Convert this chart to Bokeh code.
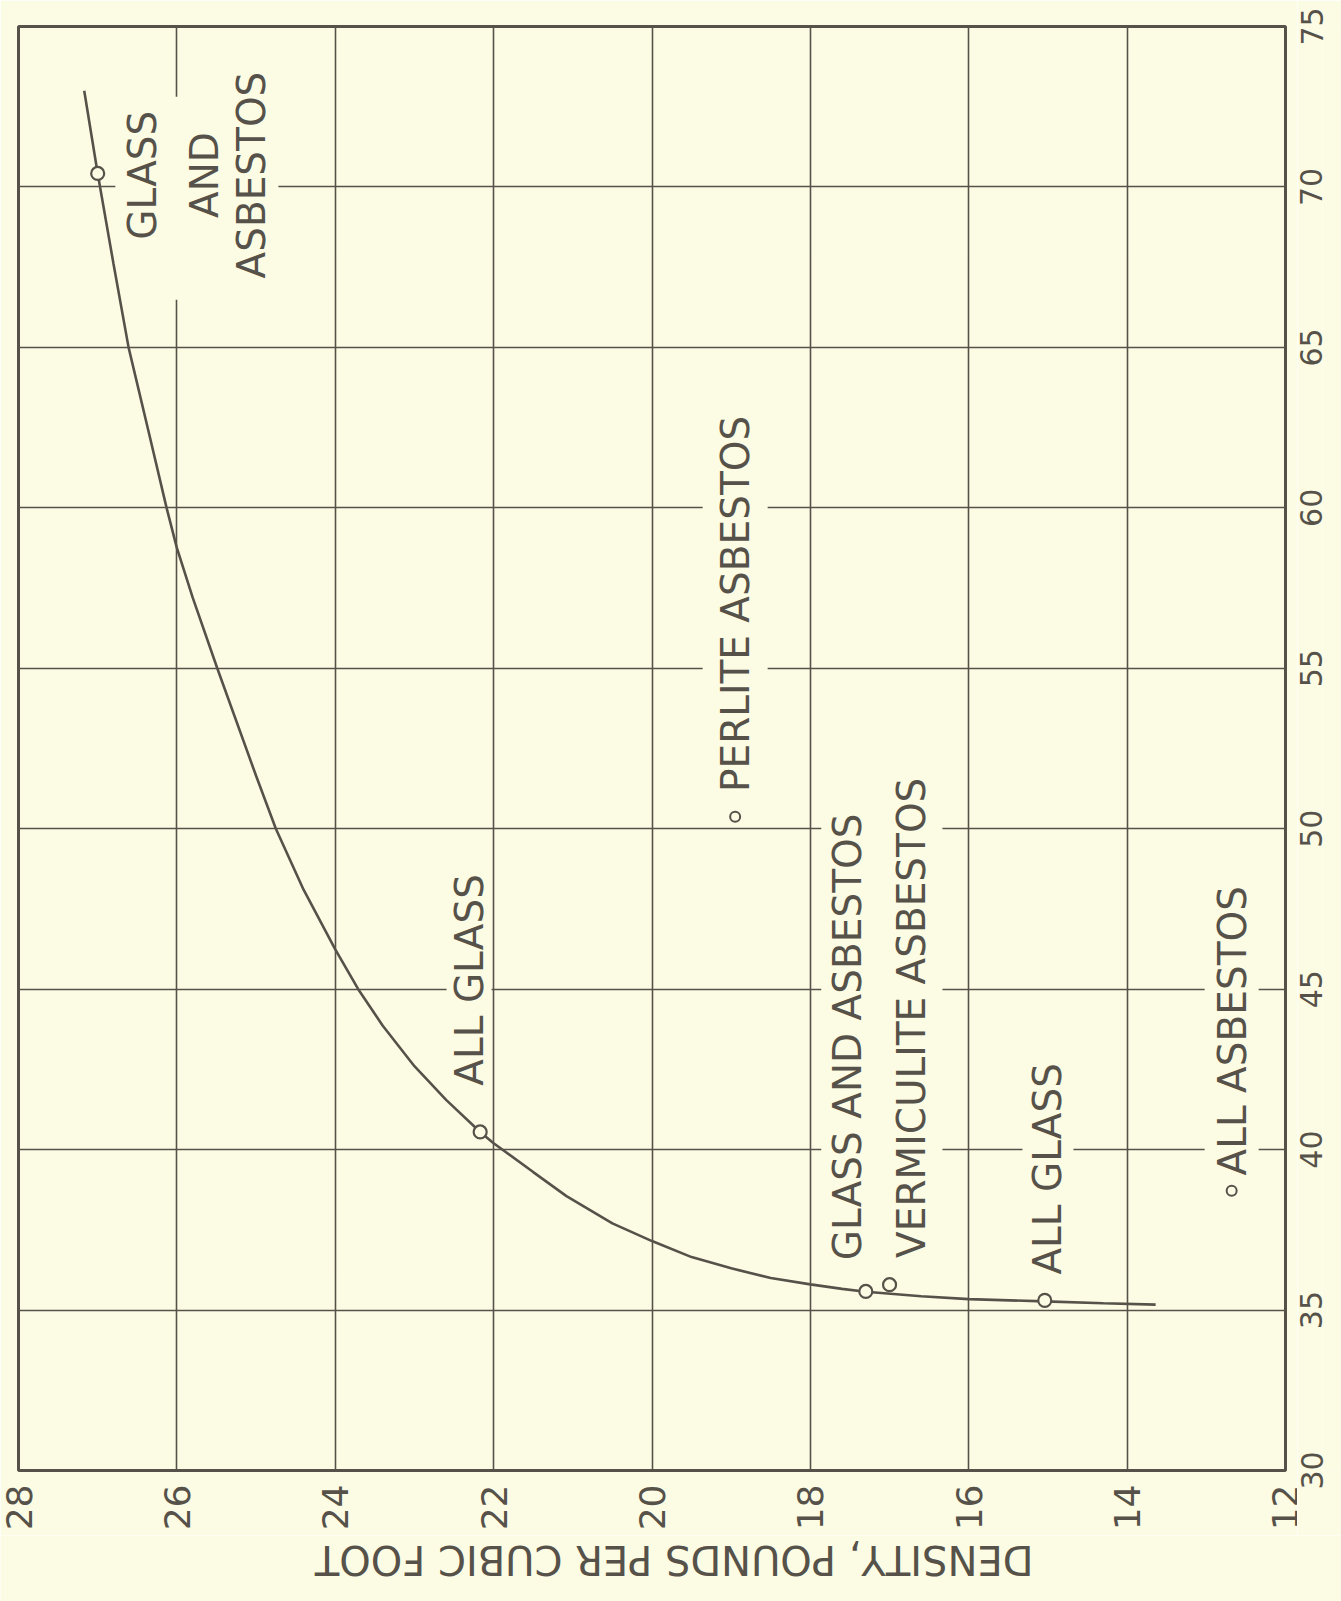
import math
from bokeh.plotting import figure
from bokeh.layouts import row, column
from bokeh.models import Range1d, FixedTicker, ColumnDataSource
from bokeh.core.properties import value
from bokeh.embed import file_html
from bokeh.resources import INLINE

# ---------------- data ----------------
density_ticks = [28, 26, 24, 22, 20, 18, 16, 14, 12]
value_ticks = [30, 35, 40, 45, 50, 55, 60, 65, 70, 75]

curve_density = [27.17, 27.0, 26.8, 26.61, 26.35, 26.13, 26.0, 25.8, 25.49, 25.0,
                 24.75, 24.4, 24.0, 23.71, 23.4, 23.0, 22.6, 22.17, 22.0, 21.5,
                 21.08, 20.5, 20.0, 19.5, 19.0, 18.5, 18.0, 17.6, 17.3, 16.6,
                 16.0, 15.04, 14.3, 13.64]
curve_value = [73.0, 70.42, 67.6, 65.0, 62.3, 60.0, 58.75, 57.2, 55.0, 51.65,
               50.0, 48.1, 46.24, 45.0, 43.86, 42.6, 41.55, 40.55, 40.2, 39.3,
               38.55, 37.7, 37.15, 36.65, 36.3, 36.0, 35.8, 35.66, 35.57, 35.43,
               35.34, 35.27, 35.21, 35.17]

# samples lying on (or next to) the curve
sample_density = [27.0, 22.17, 17.30, 17.0, 15.04]
sample_value = [70.42, 40.55, 35.58, 35.79, 35.30]

# isolated samples (perlite asbestos, all asbestos)
iso_density = [18.95, 12.68]
iso_value = [50.37, 38.72]

x_title = "DENSITY, POUNDS PER CUBIC FOOT"

# ---------------- style / layout ----------------
BG = "#FCFCE4"
INK = "#56524A"
FONT = "DejaVu Sans"

MAIN_W, MAIN_H = 1297, 1535
B_LEFT, B_TOP, B_RIGHT, B_BOTTOM = 18, 26, 12, 65
FRAME_W = MAIN_W - B_LEFT - B_RIGHT
RIGHT_W = 1341 - MAIN_W
TITLE_H = 1601 - MAIN_H

p = figure(width=MAIN_W, height=MAIN_H,
           x_range=Range1d(28, 12), y_range=Range1d(30, 75),
           y_axis_location=None,
           output_backend="svg", toolbar_location=None,
           min_border_left=B_LEFT, min_border_top=B_TOP,
           min_border_right=B_RIGHT, min_border_bottom=B_BOTTOM,
           background_fill_color=BG, border_fill_color=BG,
           outline_line_color=INK, outline_line_width=3)

p.xaxis.ticker = FixedTicker(ticks=density_ticks)
p.xgrid.ticker = FixedTicker(ticks=density_ticks)
p.ygrid.ticker = FixedTicker(ticks=value_ticks)
for g in (p.xgrid, p.ygrid):
    g.grid_line_color = INK
    g.grid_line_width = 1.6
    g.grid_line_alpha = 1.0

ax = p.xaxis[0]
ax.axis_line_color = None
ax.major_tick_line_color = None
ax.minor_tick_line_color = None
ax.major_label_text_font = FONT
ax.major_label_text_font_size = "36px"
ax.major_label_text_color = INK
ax.major_label_orientation = math.pi / 2
ax.major_label_standoff = 8

# ---------------- labels (with background boxes that interrupt the grid) ----------------
def add_text(x, y, text, align, pad):
    src = ColumnDataSource(dict(x=[x], y=[y], text=[text]))
    p.text(x="x", y="y", text="text", source=src, angle=math.pi / 2,
           text_align=align, text_baseline="middle",
           text_font=value(FONT), text_font_size="39px", text_color=INK,
           background_fill_color=BG, padding=pad)

add_text(26.373, 69.65, "GLASS", "center", dict(left=60, right=14, top=5, bottom=14))
add_text(25.66, 70.37, "AND", "center", dict(left=4, right=4, top=6, bottom=4))
add_text(25.04, 70.37, "ASBESTOS", "center", dict(left=4, right=4, top=2, bottom=4))
add_text(22.31, 45.29, "ALL GLASS", "center",
         dict(left=4, right=4, top=0, bottom=0))
add_text(18.95, 51.02, "PERLITE ASBESTOS", "left",
         dict(left=4, right=8, top=10, bottom=10))
add_text(17.49, 36.43, "GLASS AND ASBESTOS", "left",
         dict(left=4, right=8, top=4, bottom=10))
add_text(16.73, 36.5, "VERMICULITE ASBESTOS", "left",
         dict(left=4, right=8, top=10, bottom=8))
add_text(15.0, 35.98, "ALL GLASS", "left",
         dict(left=4, right=8, top=3, bottom=3))
add_text(12.68, 39.07, "ALL ASBESTOS", "left",
         dict(left=4, right=8, top=5, bottom=4))

# ---------------- curve and samples ----------------
p.line(curve_density, curve_value, line_color=INK, line_width=2.6)
p.scatter(sample_density, sample_value, marker="circle", size=13,
          fill_color=BG, line_color=INK, line_width=2.2)
p.scatter(iso_density, iso_value, marker="circle", size=10,
          fill_color=BG, line_color=INK, line_width=2.0)

# ---------------- right-hand scale: an axis centred on its ticks, reading upwards ----------
pr = figure(width=RIGHT_W, height=MAIN_H,
            x_range=Range1d(0, 1), y_range=p.y_range,
            x_axis_location=None, y_axis_location="left",
            output_backend="svg", toolbar_location=None,
            min_border=0, background_fill_color=BG, border_fill_color=BG,
            outline_line_color=None)
pr.grid.visible = False
ay = pr.yaxis[0]
ay.ticker = FixedTicker(ticks=value_ticks)
ay.axis_line_color = None
ay.major_tick_line_color = None
ay.minor_tick_line_color = None
ay.major_tick_out = 0
ay.major_tick_in = 0
ay.minor_tick_out = 0
ay.minor_tick_in = 0
ay.axis_label_standoff = 0
ay.major_label_orientation = "parallel"
ay.major_label_standoff = 0
ay.major_label_text_font = FONT
ay.major_label_text_font_size = "30px"
ay.major_label_text_color = INK

# ---------------- axis title strip (upside down, as in the scan) ----------------
title_x = B_LEFT + (28 - 19.72) / 16.0 * FRAME_W
pt = figure(width=1341, height=TITLE_H,
            x_range=Range1d(0, 1341), y_range=Range1d(0, TITLE_H),
            x_axis_location=None, y_axis_location=None,
            output_backend="svg", toolbar_location=None,
            min_border=0, background_fill_color=BG, border_fill_color=BG,
            outline_line_color=None)
pt.grid.visible = False
pt.text(x=[title_x], y=[TITLE_H - 24], text=[x_title], angle=math.pi,
        text_align="center", text_baseline="middle",
        text_font=value(FONT), text_font_size="40px", text_color=INK)

layout = column(row(p, pr, spacing=0), pt, spacing=0)

open("out.html", "w").write(file_html(layout, INLINE))
